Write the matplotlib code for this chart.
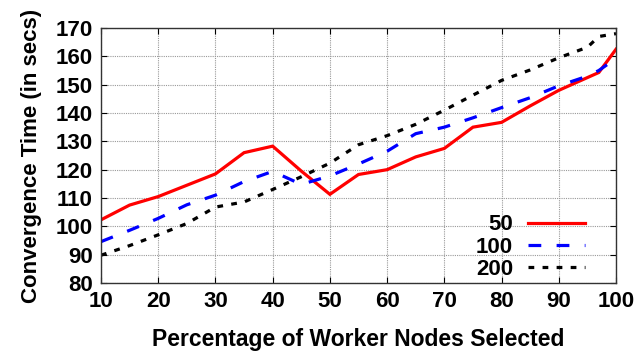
import matplotlib
matplotlib.use("Agg")
import matplotlib.pyplot as plt

plt.rcParams['font.family'] = ['Liberation Sans', 'DejaVu Sans']
plt.rcParams['font.weight'] = 'bold'

pct = [10, 15, 20, 25, 30, 35, 40, 45, 50, 55, 60, 65, 70, 75, 80, 85, 90, 95, 97, 100]
t50 = [102.3, 107.5, 110.5, 114.5, 118.5, 126.0, 128.3, 119.5, 111.3, 118.3, 120.0, 124.5,
       127.5, 135.0, 136.7, 142.5, 148.0, 152.5, 154.3, 162.5]
t100 = [94.6, 98.6, 102.8, 107.6, 111.0, 115.8, 119.4, 114.8, 117.8, 122.0, 126.5, 132.7,
        135.0, 138.3, 141.9, 145.4, 149.6, 153.0, 155.0, 159.3]
t200 = [89.8, 93.2, 97.0, 101.0, 106.8, 108.6, 113.0, 117.5, 122.3, 128.8, 132.0, 136.0,
        141.0, 146.3, 151.5, 155.2, 159.5, 163.2, 167.0, 168.0]
series_labels = ['50', '100', '200']
xticks = [10, 20, 30, 40, 50, 60, 70, 80, 90, 100]
yticks = [80, 90, 100, 110, 120, 130, 140, 150, 160, 170]

fig = plt.figure(figsize=(6.4, 3.55), dpi=100)
ax = fig.add_axes([101/640, 1 - 283/355, 515/640, 255/355])

ax.plot(pct, t50, color='#ff0000', lw=2.3, label=series_labels[0], solid_joinstyle='miter')
ax.plot(pct, t100, color='#0000ff', lw=2.3, dashes=(4.0, 4.8), label=series_labels[1])
ax.plot(pct, t200, color='black', lw=2.3, dashes=(1.8, 2.6), label=series_labels[2])

ax.set_xlim(10, 100)
ax.set_ylim(80, 170)
ax.set_xticks(xticks)
ax.set_yticks(yticks)
ax.grid(True, color='#999999', linestyle=(0, (1, 1)), linewidth=0.8)
ax.tick_params(direction='in', top=True, right=True, length=4, width=0.8,
               labelsize=16, pad=6)
for lab in ax.get_xticklabels() + ax.get_yticklabels():
    lab.set_fontweight('bold')
for s in ax.spines.values():
    s.set_linewidth(1.0)
    s.set_color('#333333')

ax.set_xlabel('Percentage of Worker Nodes Selected', fontsize=16.5, fontweight='bold', labelpad=11)
ax.set_ylabel('Convergence Time (in secs)', fontsize=16, fontweight='bold', labelpad=10)

leg = ax.legend(loc='lower right', bbox_to_anchor=(0.947, 0.0), frameon=False,
                markerfirst=False, fontsize=16, handlelength=2.6, handletextpad=0.65,
                labelspacing=0.05, borderpad=0.15, borderaxespad=0.0)
for t in leg.get_texts():
    t.set_fontweight('bold')

fig.savefig('out.png', dpi=100)
